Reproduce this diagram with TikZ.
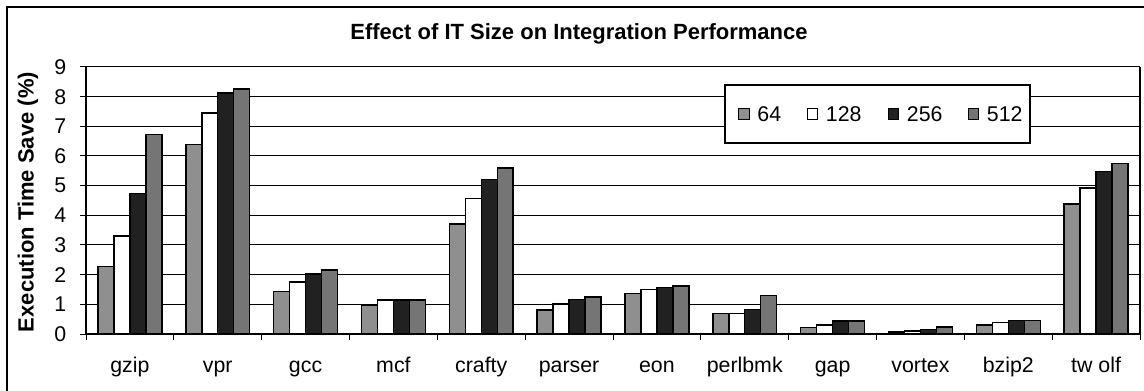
\documentclass[tikz,border=0pt]{standalone}
\usepackage{fontspec}
\setmainfont{Liberation Sans}
\usetikzlibrary{positioning}
\definecolor{bar0}{gray}{0.56}
\definecolor{bar1}{gray}{1.00}
\definecolor{bar2}{gray}{0.13}
\definecolor{bar3}{gray}{0.46}
\tikzset{
	labeltext/.style={font=\fontsize{16}{18}\selectfont},
	boldtext/.style={font=\fontsize{16.5}{19}\selectfont\bfseries}
}
\tikzset{
	gridline/.style={draw=black, line width=0.75pt},
	barbox/.style={draw=black, line width=1.1pt},
	legendkey/.style={draw=black, line width=0.8pt, minimum size=8pt, inner sep=0pt}
}

\begin{document}
\begin{tikzpicture}[x=0.75pt, y=-0.75pt]
      \useasboundingbox (0,0) rectangle (1144,391);
      \clip (0,0) rectangle (1144,391);
      \draw[line width=1.1pt] (7,7) rectangle (1180,420);
      \node[boldtext] (title) at (579,34) {Effect of IT Size on Integration Performance};
      \node[boldtext, rotate=90] (ylabel) at (28,202) {Execution Time Save (\%)};
      \begin{scope}[shift={(86,334)}, x=65.875pt, y=22.25pt]
        \foreach \v in {1,...,9} \draw[gridline] (0,\v) -- (12,\v);
        \foreach \v in {0,...,9} {
          \draw[line width=0.75pt] (-0.07,\v) -- (0,\v);
          \node[labeltext, anchor=east] (tick\v) at (-0.17,\v) {\v};
        }
        \foreach \i in {0,...,12} \draw[line width=0.75pt] (\i,0) -- (\i,-0.2);
        \draw[line width=0.9pt] (0,9) -- (0,0) -- (12,0) -- (12,9);
        \foreach \name/\vals [count=\i from 0] in {
            gzip/{2.27,3.30,4.73,6.72}, vpr/{6.38,7.45,8.13,8.26},
            gcc/{1.43,1.75,2.02,2.15}, mcf/{0.97,1.15,1.15,1.15},
            crafty/{3.70,4.56,5.20,5.60}, parser/{0.81,1.01,1.17,1.24},
            eon/{1.37,1.50,1.56,1.62}, perlbmk/{0.70,0.70,0.83,1.30},
            gap/{0.22,0.30,0.44,0.44}, vortex/{0.06,0.10,0.16,0.24},
            bzip2/{0.30,0.38,0.45,0.45}, tw olf/{4.38,4.92,5.48,5.74}} {
          \node[labeltext, anchor=base] (cat\i) at (\i+0.5,-1.31) {\name};
          \foreach \h [count=\k from 0] in \vals
            \draw[barbox, fill=bar\k] (\i+0.136+0.182*\k,0) rectangle ++(0.182,\h);
        }
      \end{scope}
      % legend
      \node[draw=black, line width=0.8pt, fill=white, minimum width=228.75pt, minimum height=43.5pt] (legend) at (877.5,114) {};
      \node[legendkey, fill=bar0] (key0) at (744,114) {};
      \node[labeltext, inner sep=1pt, right=4.5pt of key0] (lab0) {64};
      \node[legendkey, fill=bar1] (key1) at (812.5,114) {};
      \node[labeltext, inner sep=1pt, right=4.5pt of key1] (lab1) {128};
      \node[legendkey, fill=bar2] (key2) at (893.5,114) {};
      \node[labeltext, inner sep=1pt, right=4.5pt of key2] (lab2) {256};
      \node[legendkey, fill=bar3] (key3) at (973.5,114) {};
      \node[labeltext, inner sep=1pt, right=4.5pt of key3] (lab3) {512};
    \end{tikzpicture}
\end{document}
